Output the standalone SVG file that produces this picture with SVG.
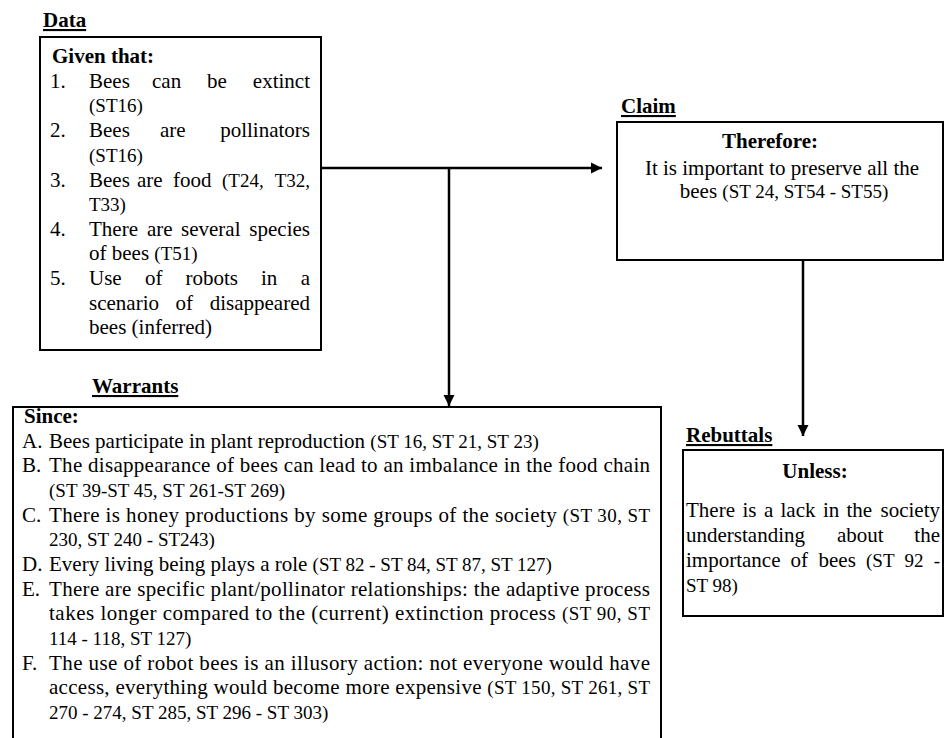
<svg xmlns="http://www.w3.org/2000/svg" width="945" height="738" viewBox="0 0 945 738">
<defs>
<style>
text{font-family:"Liberation Serif","Times New Roman",serif;font-size:21px;fill:#000}
.b{font-weight:bold}
.s{font-size:19px}
.lbl{font-weight:bold;text-decoration:underline}
.box{fill:#fff;stroke:#000;stroke-width:2}
.con{fill:none;stroke:#000;stroke-width:2.5}
.e{text-anchor:end}
.m{text-anchor:middle}
</style>
<marker id="ah" viewBox="0 0 10 10" refX="10" refY="5" markerWidth="4.5" markerHeight="4.5" markerUnits="strokeWidth" orient="auto">
<path d="M0,0 L10,5 L0,10 Z" fill="#000"/>
</marker>
</defs>
<rect width="945" height="738" fill="#fff"/>

<g id="connectors">
<path class="con" d="M321,168 H602" marker-end="url(#ah)"/>
<path class="con" d="M449,168 V406" marker-end="url(#ah)"/>
<path class="con" d="M803,260 V436" marker-end="url(#ah)"/>
</g>

<g id="data">
<text class="lbl" x="43" y="27">Data</text>
<rect class="box" x="40" y="37" width="281" height="313"/>
<text class="b" x="52" y="63">Given that:</text>
<text x="50" y="88">1.</text>
<text x="89" y="88">Bees</text><text x="152" y="88">can</text><text x="207" y="88">be</text><text class="e" x="310" y="88">extinct</text>
<text class="s" x="89" y="112">(ST16)</text>
<text x="50" y="137">2.</text>
<text x="89" y="137">Bees</text><text x="160" y="137">are</text><text class="e" x="310" y="137">pollinators</text>
<text class="s" x="89" y="162">(ST16)</text>
<text x="50" y="187">3.</text>
<text x="89" y="187">Bees</text><text x="137" y="187">are</text><text x="173" y="187">food</text><text class="s" x="222" y="187">(T24,</text><text class="s e" x="310" y="187">T32,</text>
<text class="s" x="89" y="211">T33)</text>
<text x="50" y="236">4.</text>
<text x="89" y="236">There</text><text x="147" y="236">are</text><text x="181" y="236">several</text><text class="e" x="310" y="236">species</text>
<text x="89" y="260">of bees <tspan class="s">(T51)</tspan></text>
<text x="50" y="285">5.</text>
<text x="89" y="285">Use</text><text x="145" y="285">of</text><text x="185.5" y="285">robots</text><text x="261" y="285">in</text><text class="e" x="310" y="285">a</text>
<text x="89" y="310">scenario</text><text x="175.5" y="310">of</text><text class="e" x="310" y="310">disappeared</text>
<text x="89" y="334">bees (inferred)</text>
</g>

<g id="claim">
<text class="lbl" x="621" y="113">Claim</text>
<rect class="box" x="617" y="122" width="326" height="138"/>
<text class="b m" x="770" y="148">Therefore:</text>
<text class="m" x="782" y="175">It is important to preserve all the</text>
<text class="m" x="784" y="198">bees <tspan class="s">(ST 24, ST54 - ST55)</tspan></text>
</g>

<g id="warrants">
<text class="lbl" x="92" y="393">Warrants</text>
<rect class="box" x="13" y="407" width="648" height="360"/>
<text class="b" x="24" y="423">Since:</text>
<text x="22" y="448">A.</text>
<text x="49" y="448">Bees participate in plant reproduction <tspan class="s">(ST 16, ST 21, ST 23)</tspan></text>
<text x="22" y="472">B.</text>
<text x="49" y="472" textLength="601" lengthAdjust="spacing">The disappearance of bees can lead to an imbalance in the food chain</text>
<text class="s" x="49" y="497">(ST 39-ST 45, ST 261-ST 269)</text>
<text x="22" y="522">C.</text>
<text x="49" y="522" textLength="601" lengthAdjust="spacing">There is honey productions by some groups of the society <tspan class="s">(ST 30, ST</tspan></text>
<text class="s" x="49" y="546">230, ST 240 - ST243)</text>
<text x="22" y="571">D.</text>
<text x="49" y="571">Every living being plays a role <tspan class="s">(ST 82 - ST 84, ST 87, ST 127)</tspan></text>
<text x="22" y="596">E.</text>
<text x="49" y="596" textLength="601" lengthAdjust="spacing">There are specific plant/pollinator relationships: the adaptive process</text>
<text x="49" y="620" textLength="601" lengthAdjust="spacing">takes longer compared to the (current) extinction process <tspan class="s">(ST 90, ST</tspan></text>
<text class="s" x="49" y="645">114 - 118, ST 127)</text>
<text x="22" y="670">F.</text>
<text x="49" y="670" textLength="601" lengthAdjust="spacing">The use of robot bees is an illusory action: not everyone would have</text>
<text x="49" y="694" textLength="601" lengthAdjust="spacing">access, everything would become more expensive <tspan class="s">(ST 150, ST 261, ST</tspan></text>
<text class="s" x="49" y="719">270 - 274, ST 285, ST 296 - ST 303)</text>
</g>

<g id="rebuttals">
<text class="lbl" x="686" y="442">Rebuttals</text>
<rect class="box" x="683" y="450" width="260" height="166"/>
<text class="b m" x="815" y="478">Unless:</text>
<text x="686" y="517">There</text><text x="742.5" y="517">is</text><text x="764" y="517">a</text><text x="780.5" y="517">lack</text><text x="823" y="517">in</text><text x="846.5" y="517">the</text><text class="e" x="940" y="517">society</text>
<text x="686" y="542">understanding</text><text x="837" y="542">about</text><text class="e" x="940" y="542">the</text>
<text x="686" y="567">importance</text><text x="790.5" y="567">of</text><text x="818.5" y="567">bees</text><text class="s" x="866" y="567">(ST</text><text class="s" x="904.5" y="567">92</text><text class="s e" x="940" y="567">-</text>
<text class="s" x="686" y="592">ST 98)</text>
</g>
</svg>
